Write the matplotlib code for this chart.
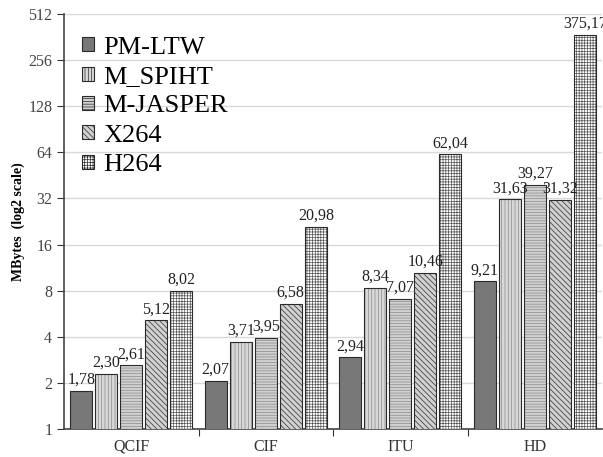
import numpy as np
import matplotlib.pyplot as plt
from matplotlib.ticker import FixedLocator, NullLocator

plt.rcParams['font.family'] = ['Liberation Serif', 'DejaVu Serif']
plt.rcParams['hatch.linewidth'] = 0.5

resolutions = ['QCIF', 'CIF', 'ITU', 'HD']
codecs = ['PM-LTW', 'M_SPIHT', 'M-JASPER', 'X264', 'H264']
pm_ltw = [1.78, 2.07, 2.94, 9.21]
m_spiht = [2.30, 3.71, 8.34, 31.63]
m_jasper = [2.61, 3.95, 7.07, 39.27]
x264 = [5.12, 6.58, 10.46, 31.32]
h264 = [8.02, 20.98, 62.04, 375.17]
series = [pm_ltw, m_spiht, m_jasper, x264, h264]

faces = ['#787878', '#d8d8d8', '#d0d0d0', '#d0d0d0', '#ffffff']
hatches = [None, '|||||', '------', '\\\\\\\\\\\\', '++++++']
hatch_cols = ['#787878', '#8a8a8a', '#8a8a8a', '#303030', '#555555']

fig = plt.figure(figsize=(6.03, 4.57), dpi=100)
ax = fig.add_axes([64 / 603, 28 / 457, 538 / 603, 415 / 457])

x = np.arange(len(resolutions))
pitch = 0.186
width = 0.163
for i, (name, vals) in enumerate(zip(codecs, series)):
    pos = x + 0.5 + (i - 2) * pitch
    # fill + hatch first, then a dark outline on top
    ax.bar(pos, vals, width, color=faces[i], hatch=hatches[i],
           edgecolor=hatch_cols[i], linewidth=0, zorder=3)
    bars = ax.bar(pos, vals, width, fill=False, edgecolor='#2a2a2a',
                  linewidth=0.8, zorder=3.5)
    ax.bar([0], [0], 0, color=faces[i], hatch=hatches[i],
           edgecolor='#2a2a2a', linewidth=0.8, label=name)
    for b, v in zip(bars, vals):
        ax.annotate(f'{v:.2f}'.replace('.', ','),
                    (b.get_x() + b.get_width() / 2, v),
                    xytext=(0, 2), textcoords='offset points',
                    ha='center', va='bottom', fontsize=11.5, color='#222222',
                    zorder=4)

ax.set_yscale('log', base=2)
ax.set_ylim(1, 512)
ax.set_xlim(0, len(resolutions))
yt = [2 ** k for k in range(10)]
ax.set_yticks(yt)
ax.set_yticklabels([str(v) for v in yt])
ax.yaxis.set_minor_locator(NullLocator())
ax.grid(axis='y', color='#d9d9d9', linewidth=1.0, zorder=0)

ax.xaxis.set_major_locator(FixedLocator([1, 2, 3]))
ax.set_xticklabels([])
ax.set_xticks(x + 0.5, minor=True)
ax.set_xticklabels(resolutions, minor=True)
ax.tick_params(axis='x', which='major', length=5, direction='out', color='#333333')
ax.tick_params(axis='x', which='minor', length=0, pad=7, labelsize=11.5,
               labelcolor='#333333')
ax.tick_params(axis='y', length=5, direction='out', labelsize=11.5,
               color='#333333', labelcolor='#444444')

for s in ['top', 'right']:
    ax.spines[s].set_visible(False)
for s in ['left', 'bottom']:
    ax.spines[s].set_color('#444444')
    ax.spines[s].set_linewidth(1.2)

ax.set_ylabel('MBytes  (log2 scale)', fontweight='bold', fontsize=10, labelpad=2)

ax.legend(loc='upper left', bbox_to_anchor=(0.0, 0.99), frameon=False,
          fontsize=19, handlelength=0.45, handleheight=0.45, handletextpad=0.35,
          labelspacing=0.28, borderaxespad=0.3)

fig.savefig('out.png', dpi=100)
